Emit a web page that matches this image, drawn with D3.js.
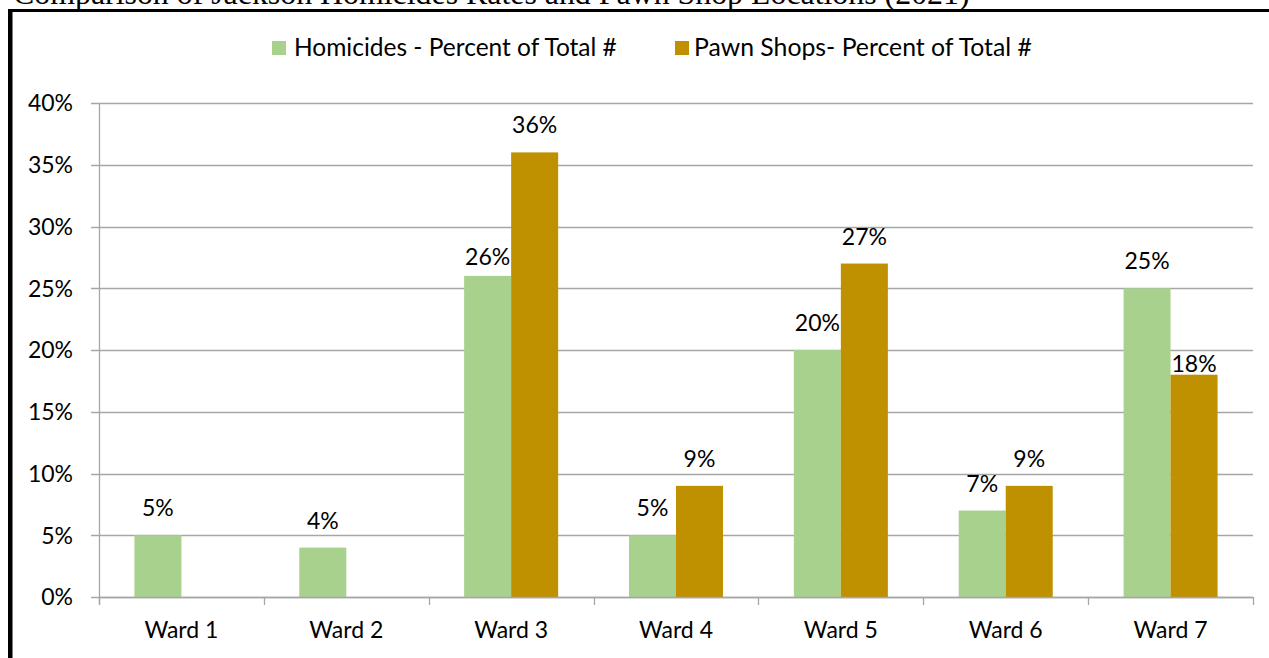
<!DOCTYPE html>
<html>
<head>
<meta charset="utf-8">
<script src="https://cdn.jsdelivr.net/npm/d3@7"></script>
<style>
  html, body { margin: 0; padding: 0; background: #fff; }
  svg { display: block; }
  text { font-family: Lato, "Open Sans", sans-serif; }
</style>
</head>
<body>
<svg id="chart" width="1269" height="658"></svg>
<script>
// ---- data ----
const wards = ["Ward 1", "Ward 2", "Ward 3", "Ward 4", "Ward 5", "Ward 6", "Ward 7"];
const homicides = [5, 4, 26, 5, 20, 7, 25];
const pawnShops = [null, null, 36, 9, 27, 9, 18];
const seriesNames = ["Homicides - Percent of Total #", "Pawn Shops- Percent of Total #"];
const yTicks = [0, 5, 10, 15, 20, 25, 30, 35, 40];
const titleText = "Comparison of Jackson Homicides Rates and Pawn Shop Locations (2021)";

// ---- styles ----
const colors = ["#A9D18E", "#BF9000"];
const gridColor = "#A6A6A6";
const fontSize = 23;

const svg = d3.select("#chart");
const W = 1269, H = 658;
const plot = { left: 99, right: 1253, top: 103, bottom: 597 };

// frame border (thick top/left)
svg.append("rect").attr("x", 8).attr("y", 9).attr("width", W - 8).attr("height", 3).attr("fill", "#000");
svg.append("rect").attr("x", 8).attr("y", 9).attr("width", 4.5).attr("height", H - 9).attr("fill", "#000");

// title (cut off at top), fit to width
const title = svg.append("text")
  .attr("x", 13).attr("y", 4)
  .style("font-family", "'Liberation Serif', 'Times New Roman', serif")
  .style("font-size", "28px")
  .attr("fill", "#000")
  .text(titleText);
const tl = title.node().getComputedTextLength();
title.style("font-size", (28 * 957 / tl) + "px");

// scales
const x = d3.scaleBand().domain(wards).range([plot.left, plot.right]).paddingInner(0).paddingOuter(0);
const groupFrac = 94 / ((plot.right - plot.left) / wards.length);
const xs = d3.scaleBand().domain([0, 1])
  .range([x.bandwidth() * (1 - groupFrac) / 2, x.bandwidth() * (1 + groupFrac) / 2]).padding(0);
const y = d3.scaleLinear().domain([0, 40]).range([plot.bottom, plot.top]);

// gridlines
svg.append("g").selectAll("line").data(yTicks).join("line")
  .attr("x1", plot.left - 8).attr("x2", plot.right)
  .attr("y1", d => Math.round(y(d)) + 0.5).attr("y2", d => Math.round(y(d)) + 0.5)
  .attr("stroke", gridColor).attr("stroke-width", 1.3);

// y axis line
svg.append("line")
  .attr("x1", plot.left + 0.5).attr("x2", plot.left + 0.5)
  .attr("y1", plot.top).attr("y2", plot.bottom + 8)
  .attr("stroke", gridColor).attr("stroke-width", 1.3);

// y labels
svg.append("g").selectAll("text").data(yTicks).join("text")
  .attr("x", 73).attr("y", d => y(d))
  .attr("dy", "0.36em")
  .attr("text-anchor", "end")
  .style("font-size", fontSize + "px")
  .attr("fill", "#000")
  .text(d => d + "%");

// bars
const rows = wards.map((w, i) => ({ ward: w, vals: [homicides[i], pawnShops[i]] }));
const groups = svg.append("g").selectAll("g").data(rows).join("g")
  .attr("transform", d => `translate(${x(d.ward)},0)`);

groups.selectAll("rect").data(d => d.vals.map((v, k) => ({ v, k })).filter(e => e.v != null))
  .join("rect")
  .attr("x", e => xs(e.k))
  .attr("width", xs.bandwidth())
  .attr("y", e => y(e.v))
  .attr("height", e => y(0) - y(e.v))
  .attr("fill", e => colors[e.k]);

// data labels
const nudge = { "Ward 3-0": 8, "Ward 7-1": 16 };
groups.selectAll("text").data(d => d.vals.map((v, k) => ({ v, k, w: d.ward })).filter(e => e.v != null))
  .join("text")
  .attr("x", e => xs(e.k) + xs.bandwidth() / 2)
  .attr("y", e => y(e.v) - 19 + (nudge[e.w + "-" + e.k] || 0))
  .attr("text-anchor", "middle")
  .style("font-size", fontSize + "px")
  .attr("fill", "#000")
  .text(e => e.v + "%");

// x axis line and ticks
svg.append("line")
  .attr("x1", plot.left).attr("x2", plot.right)
  .attr("y1", Math.round(y(0)) + 0.5).attr("y2", Math.round(y(0)) + 0.5)
  .attr("stroke", gridColor).attr("stroke-width", 1.3);
const boundaries = wards.map(w => x(w)).concat([plot.right]);
svg.append("g").selectAll("line").data(boundaries).join("line")
  .attr("x1", d => Math.round(d) + 0.5).attr("x2", d => Math.round(d) + 0.5)
  .attr("y1", plot.bottom).attr("y2", plot.bottom + 8)
  .attr("stroke", gridColor).attr("stroke-width", 1.3);

// x labels
svg.append("g").selectAll("text").data(wards).join("text")
  .attr("x", d => x(d) + x.bandwidth() / 2)
  .attr("y", 638)
  .attr("text-anchor", "middle")
  .style("font-size", fontSize + "px")
  .attr("fill", "#000")
  .text(d => d);

// legend
const legendItems = [
  { name: seriesNames[0], color: colors[0], sx: 272, tx: 294, w: 323 },
  { name: seriesNames[1], color: colors[1], sx: 675, tx: 694, w: 338 }
];
const lg = svg.append("g").selectAll("g").data(legendItems).join("g");
lg.append("rect").attr("x", d => d.sx).attr("y", 41).attr("width", 14).attr("height", 14).attr("fill", d => d.color);
lg.append("text").attr("x", d => d.tx).attr("y", 56)
  .style("font-size", fontSize + "px").attr("fill", "#000")
  .text(d => d.name)
  .each(function(d) {
    const len = this.getComputedTextLength();
    d3.select(this).style("font-size", Math.min(25, fontSize * d.w / len) + "px");
  });
</script>
</body>
</html>
